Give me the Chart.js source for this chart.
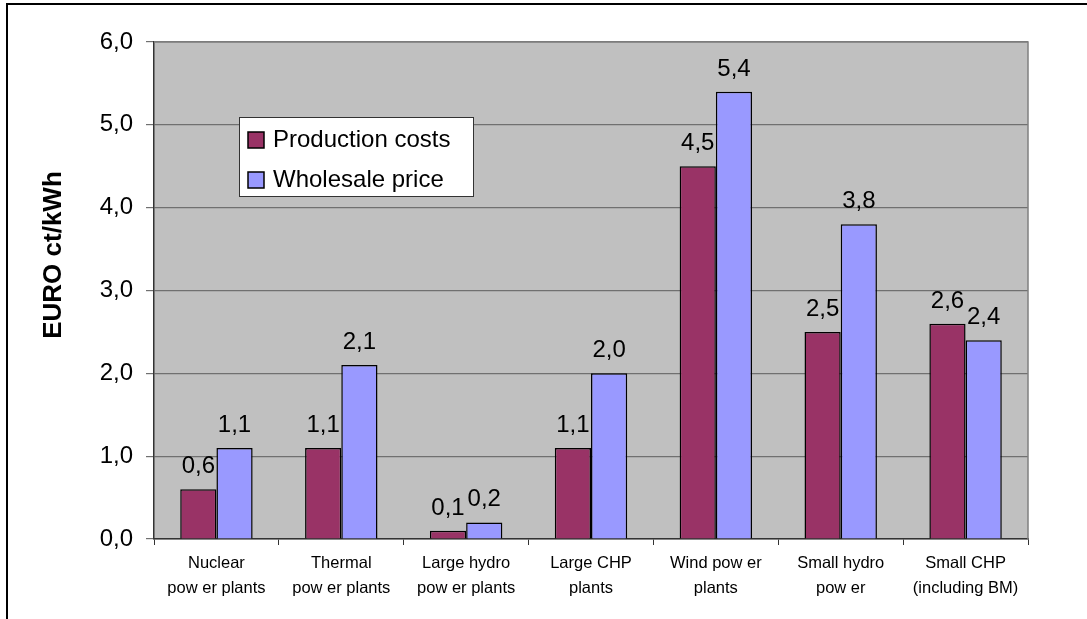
<!DOCTYPE html>
<html>
<head>
<meta charset="utf-8">
<script src="https://cdn.jsdelivr.net/npm/chart.js@4"></script>
<style>
  body { margin: 0; background: #fff; }
  #marco { position: absolute; left: 6px; top: 3px; width: 1200px; height: 700px; border: 2px solid #000; box-sizing: border-box; }
  #caja { position: absolute; left: 0; top: 0; width: 1087px; height: 619px; }
</style>
</head>
<body>
<div id="marco"></div>
<div id="caja"><canvas id="id-grafico"></canvas></div>
<script>
// datos
const categorias = [
  ["Nuclear", "pow er plants"],
  ["Thermal", "pow er plants"],
  ["Large hydro", "pow er plants"],
  ["Large CHP", "plants"],
  ["Wind pow er", "plants"],
  ["Small hydro", "pow er"],
  ["Small CHP", "(including BM)"]
];
const costesProduccion = [0.6, 1.1, 0.1, 1.1, 4.5, 2.5, 2.6];
const precioMayorista = [1.1, 2.1, 0.2, 2.0, 5.4, 3.8, 2.4];
const ticksY = [0, 1, 2, 3, 4, 5, 6];
const tituloY = "EURO ct/kWh";

const fuente = "Arial, 'Liberation Sans', sans-serif";

function coma(v){
    return v.toFixed(1).replace(".", ",");
}

// fondo gris del area del grafico
const fondo = {
    id: "fondo",
    beforeDraw(chart){
        const ctx = chart.ctx;
        const a = chart.chartArea;
        ctx.save();
        ctx.fillStyle = "#C0C0C0";
        ctx.fillRect(a.left, a.top, a.right - a.left, a.bottom - a.top);
        ctx.restore();
    },
    afterDraw(chart){
        const ctx = chart.ctx;
        const a = chart.chartArea;
        ctx.save();
        ctx.strokeStyle = "#808080";
        ctx.lineWidth = 1.5;
        ctx.beginPath();
        ctx.moveTo(a.left, a.top);
        ctx.lineTo(a.right, a.top);
        ctx.lineTo(a.right, a.bottom);
        ctx.stroke();
        // titulo eje y
        ctx.fillStyle = "#000";
        ctx.font = "bold 26px " + fuente;
        ctx.textAlign = "center";
        ctx.textBaseline = "middle";
        ctx.translate(54, 255);
        ctx.rotate(-Math.PI / 2);
        ctx.fillText(tituloY, 0, 0);
        ctx.restore();
    }
};

// etiquetas de valores encima de las barras
const etiquetas = {
    id: "etiquetas",
    afterDatasetsDraw(chart){
        const ctx = chart.ctx;
        ctx.save();
        ctx.fillStyle = "#000";
        ctx.font = "24px " + fuente;
        ctx.textAlign = "center";
        ctx.textBaseline = "alphabetic";
        chart.data.datasets.forEach((ds, i) => {
            const meta = chart.getDatasetMeta(i);
            meta.data.forEach((bar, j) => {
                ctx.fillText(coma(ds.data[j]), bar.x, bar.y - 16);
            });
        });
        ctx.restore();
    }
};

// leyenda dentro del area
const leyenda = {
    id: "leyenda",
    afterDraw(chart){
        const ctx = chart.ctx;
        const x = 239, y = 117, w = 234, h = 79;
        ctx.save();
        ctx.fillStyle = "#fff";
        ctx.fillRect(x, y, w, h);
        ctx.strokeStyle = "#333";
        ctx.lineWidth = 1;
        ctx.strokeRect(x + 0.5, y + 0.5, w, h);
        ctx.font = "24px " + fuente;
        ctx.textBaseline = "middle";
        chart.data.datasets.forEach((ds, i) => {
            const cy = 140 + i * 40;
            ctx.fillStyle = ds.backgroundColor;
            ctx.fillRect(248, cy - 8, 16, 16);
            ctx.strokeStyle = "#000";
            ctx.lineWidth = 1.5;
            ctx.strokeRect(248, cy - 8, 16, 16);
            ctx.fillStyle = "#000";
            ctx.fillText(ds.label, 273, cy);
        });
        ctx.restore();
    }
};

new Chart("id-grafico", {
    type: "bar",
    data: {
        labels: categorias,
        datasets: [
            {
                label: "Production costs",
                data: costesProduccion,
                backgroundColor: "#993366",
                borderColor: "#000",
                borderWidth: 1.5,
                categoryPercentage: 0.58,
                barPercentage: 1
            },
            {
                label: "Wholesale price",
                data: precioMayorista,
                backgroundColor: "#9999FF",
                borderColor: "#000",
                borderWidth: 1.5,
                categoryPercentage: 0.58,
                barPercentage: 1
            }
        ]
    },
    options: {
        responsive: true,
        maintainAspectRatio: false,
        animation: false,
        layout: { padding: { left: 0, top: 42, right: 59, bottom: 0 } },
        plugins: {
            legend: { display: false },
            tooltip: { enabled: false }
        },
        scales: {
            x: {
                grid: { display: true, drawOnChartArea: false, drawTicks: true, tickLength: 6, color: "#333", offset: true },
                border: { color: "#333", width: 1.5 },
                ticks: { color: "#000", font: { family: fuente, size: 16.5, lineHeight: 1.5 }, padding: 6, maxRotation: 0, autoSkip: false },
                afterFit(scale){ scale.height = 80; }
            },
            y: {
                min: ticksY[0],
                max: ticksY[ticksY.length - 1],
                afterBuildTicks(scale){ scale.ticks = ticksY.map(v => ({ value: v })); },
                grid: { color: "#707070", lineWidth: 1.2, tickLength: 8 },
                border: { color: "#333", width: 1.5 },
                ticks: { color: "#000", font: { family: fuente, size: 24 }, padding: 13, callback: v => coma(v) },
                afterFit(scale){ scale.width = 154; }
            }
        }
    },
    plugins: [fondo, etiquetas, leyenda]
});
</script>
</body>
</html>
